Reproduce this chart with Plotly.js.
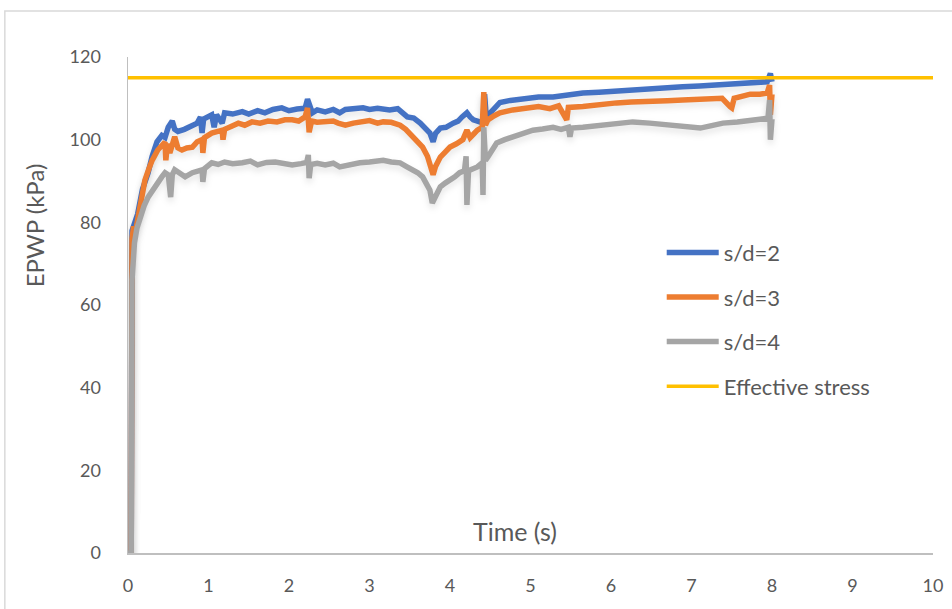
<!DOCTYPE html>
<html>
<head>
<meta charset="utf-8">
<script src="https://cdn.plot.ly/plotly-3.0.1.min.js"></script>
<style>
  html, body { margin: 0; padding: 0; background: #ffffff; }
  #chart { width: 952px; height: 609px; }
  #chart .scatterlayer .trace:nth-child(-n+3) path.js-line {
    filter: drop-shadow(0px 4px 3px rgba(0,0,0,0.10));
  }
</style>
</head>
<body>
<div id="chart"></div>
<script>
// ---- Data ----
const seriesNames = ["s/d=2", "s/d=3", "s/d=4", "Effective stress"];

const timeSd2 = [0,0.04,0.05,0.08,0.12,0.18,0.25,0.3,0.36,0.42,0.46,0.5,0.55,0.58,0.62,0.7,0.8,0.86,0.9,0.92,0.94,1.0,1.04,1.07,1.1,1.17,1.2,1.3,1.42,1.5,1.61,1.7,1.8,1.91,2.0,2.1,2.2,2.23,2.26,2.29,2.35,2.45,2.55,2.63,2.7,2.8,2.92,3.0,3.1,3.25,3.35,3.47,3.55,3.63,3.7,3.75,3.79,3.82,3.88,3.95,4.04,4.1,4.15,4.21,4.25,4.29,4.37,4.41,4.43,4.45,4.5,4.56,4.62,4.75,4.91,5.1,5.28,5.45,5.65,5.85,6.07,6.3,6.48,6.7,6.89,7.1,7.32,7.5,7.73,7.85,7.94,7.98,8.0];
const epwpSd2 = [0,0,78,79.5,82,88,92,96,99.5,101,100.5,103,104.5,102.5,102,102.5,103.3,104,105.5,101.6,105,105.8,106,103,106,104,106.5,106.2,106.8,106.2,107,106.5,107.3,107.7,107,107.4,107.6,109.8,107.8,106.5,107.2,106.7,107.3,106.5,107.3,107.5,107.7,107.3,107.6,107.2,107.5,105.5,105.2,104,102.8,101.6,99.5,101.5,102.8,103,104,104.5,105.5,106.5,105.5,104.8,104.3,104.5,111,105.5,106.5,108,109,109.5,110,110.3,110.3,110.8,111.3,111.5,111.8,112.2,112.5,112.6,112.8,113,113.2,113.4,113.7,113.9,114,116,114];

const timeSd3 = [0,0.04,0.05,0.07,0.09,0.13,0.17,0.21,0.26,0.3,0.37,0.42,0.46,0.47,0.49,0.52,0.58,0.62,0.67,0.73,0.8,0.86,0.92,0.93,0.95,1.04,1.1,1.17,1.18,1.2,1.28,1.37,1.45,1.54,1.64,1.74,1.85,1.95,2.04,2.12,2.2,2.23,2.25,2.28,2.35,2.45,2.55,2.61,2.7,2.8,2.88,3.0,3.1,3.17,3.27,3.38,3.45,3.54,3.6,3.66,3.72,3.76,3.79,3.82,3.88,3.94,4.0,4.08,4.16,4.21,4.25,4.3,4.34,4.4,4.42,4.44,4.47,4.55,4.62,4.78,4.96,5.1,5.24,5.35,5.45,5.47,5.65,5.85,6.07,6.25,6.48,6.7,6.89,7.05,7.23,7.38,7.48,7.5,7.53,7.65,7.73,7.85,7.94,7.97,7.98,8.0];
const epwpSd3 = [0,0,76,79,77.5,82,87,90.2,93,95,97.5,98.5,99.4,95,99,96.8,100.7,98,97.5,98,98.2,99.5,100,96.8,100.5,101.6,101.8,102.3,100,102.5,103.2,104,103.5,104.3,104,104.5,104.3,104.8,104.8,104.5,105.5,107.7,101.8,104.5,104.2,104.3,104.5,104,103.5,104,104.3,104.6,104,104.3,104.2,103.5,102.5,100.7,99.5,98.2,96,93,91.5,93.5,95.8,97,98.2,99,100,102.3,100.5,101.5,102.3,103,111.5,103.5,104.8,105.8,106.5,107.2,107.7,108,107.5,108.2,104.8,107.8,108,108.5,108.9,109.1,109.4,109.4,109.6,109.7,109.8,110,108,107.7,110,110.5,111,111,111.3,113.2,106,111];

const timeSd4 = [0,0.04,0.05,0.06,0.08,0.11,0.15,0.2,0.25,0.31,0.37,0.42,0.46,0.5,0.53,0.55,0.58,0.64,0.71,0.8,0.87,0.92,0.93,0.95,1.04,1.12,1.2,1.3,1.42,1.52,1.61,1.72,1.83,1.94,2.04,2.15,2.22,2.24,2.25,2.27,2.35,2.45,2.55,2.63,2.75,2.88,3.0,3.17,3.27,3.38,3.46,3.54,3.6,3.66,3.72,3.75,3.78,3.82,3.88,3.94,4.0,4.06,4.12,4.18,4.2,4.21,4.23,4.28,4.34,4.4,4.41,4.42,4.44,4.47,4.52,4.58,4.68,4.78,4.9,5.03,5.15,5.28,5.38,5.47,5.49,5.51,5.65,5.85,6.07,6.27,6.48,6.7,6.89,7.11,7.25,7.39,7.57,7.7,7.81,7.95,7.97,7.98,8.0];
const epwpSd4 = [0,0,66,72,75,78.5,81.3,84,86.1,88,89.5,91,92,91.5,86.1,91.5,92.7,91.8,91,92,92.5,92.7,89.8,93,94.4,94,94.6,94.2,94.4,94.8,93.9,94.5,94.6,94.2,93.9,94.2,94.5,96.3,90.7,94,94.3,93.9,94.3,93.4,94,94.4,94.6,95,94.6,94.4,93.5,92.7,92,91,89,87.8,84.7,86.5,88.6,89.5,90.2,91,92,92.5,96,84.2,92.5,93,93.4,94.4,86.6,103,95,95.8,97.5,99.2,100,100.7,101.5,102.3,102.6,103,102.5,103,100.7,102.8,103,103.5,104,104.3,104,103.5,103,102.8,103.4,104,104.3,104.5,104.8,105.2,109.6,100,105];

const timeStress = [0, 10];
const effStress = [115, 115];

// ---- Styles ----
const colors = ["#4472C4", "#ED7D31", "#A5A5A5", "#FFC000"];
const fontFamily = "Lato, 'Open Sans', sans-serif";
const textColor = "#595959";
const axisColor = "#BFBFBF";

const xs = [timeSd2, timeSd3, timeSd4, timeStress];
const ys = [epwpSd2, epwpSd3, epwpSd4, effStress];

const traces = seriesNames.map((name, i) => ({
  type: "scatter",
  mode: "lines",
  name: name,
  x: xs[i],
  y: ys[i],
  legendgroup: "g" + i,
  line: { color: colors[i], width: i === 3 ? 3.5 : 5.5, shape: "linear" },
  hoverinfo: "x+y+name"
}));

const layout = {
  width: 952,
  height: 609,
  paper_bgcolor: "#ffffff",
  plot_bgcolor: "#ffffff",
  margin: { l: 128, r: 19, t: 57, b: 56 },
  font: { family: fontFamily, size: 18, color: textColor },
  showlegend: true,
  legend: {
    x: 0.663, y: 0.648, xanchor: "left", yanchor: "top",
    bgcolor: "rgba(0,0,0,0)",
    font: { family: fontFamily, size: 22, color: textColor },
    tracegroupgap: 13,
    itemwidth: 52
  },
  xaxis: {
    range: [0, 10],
    dtick: 1,
    tick0: 0,
    showgrid: false,
    zeroline: false,
    showline: true,
    linecolor: axisColor,
    linewidth: 1.5,
    ticks: "",
    ticklabelstandoff: 16,
    tickfont: { family: fontFamily, size: 18, color: textColor },
    title: { text: "" }
  },
  yaxis: {
    range: [0, 120],
    dtick: 20,
    tick0: 0,
    showgrid: false,
    zeroline: false,
    showline: true,
    linecolor: axisColor,
    linewidth: 1.5,
    ticks: "",
    ticklabelstandoff: 22,
    tickfont: { family: fontFamily, size: 18, color: textColor },
    title: { text: "" }
  },
  annotations: [
    {
      text: "Time (s)",
      xref: "paper", yref: "paper",
      x: 0.481, y: 0.044,
      xanchor: "center", yanchor: "middle",
      showarrow: false,
      font: { family: fontFamily, size: 25, color: textColor }
    },
    {
      text: "EPWP (kPa)",
      xref: "paper", yref: "paper",
      x: -0.116, y: 0.66,
      xanchor: "center", yanchor: "middle",
      textangle: -90,
      showarrow: false,
      font: { family: fontFamily, size: 24, color: textColor }
    }
  ],
  shapes: [
    {
      type: "rect", xref: "paper", yref: "paper",
      x0: -0.153, x1: 1.2, y0: -0.3, y1: 1.0925,
      line: { color: "#D9D9D9", width: 1.5 },
      fillcolor: "rgba(0,0,0,0)",
      layer: "below"
    }
  ]
};

Plotly.newPlot("chart", traces, layout, { staticPlot: true, displayModeBar: false });
</script>
</body>
</html>
